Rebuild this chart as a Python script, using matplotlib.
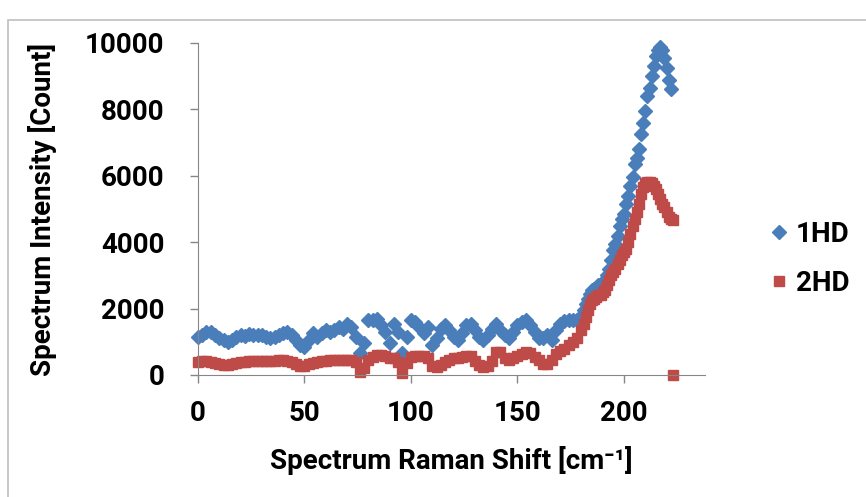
import matplotlib
matplotlib.use("Agg")
import matplotlib.pyplot as plt
from matplotlib.patches import Rectangle

plt.rcParams["font.family"] = ["Roboto", "DejaVu Sans"]

# Raman shift positions (cm-1) and intensities
shift_1hd = [0, 2, 4, 6, 8, 10, 12, 14, 16, 18, 20, 22, 24, 26, 28, 30, 32, 34, 36, 38,
             40, 42, 44, 46, 48, 50, 52, 54, 56, 58, 60, 62, 64, 66, 68, 70, 72, 74, 76, 78,
             80, 82, 84, 86, 88, 90, 92, 94, 96, 98, 100, 102, 104, 106, 108, 110, 112, 114,
             116, 118, 120, 122, 124, 126, 128, 130, 132, 134, 136, 138, 140, 142, 144, 146,
             148, 150, 152, 154, 156, 158, 160, 162, 164, 166, 168, 170, 172, 174, 176, 178,
             180, 181, 182, 183, 184, 185, 186, 187, 188, 189, 190, 191, 192, 193, 194, 195,
             196, 197, 198, 199, 200, 201, 202, 203, 204, 205, 206, 207, 208, 209, 210, 211,
             212, 213, 214, 215, 216, 217, 218, 219, 220, 221, 222]
intensity_1hd = [1150, 1200, 1280, 1300, 1200, 1100, 1050, 1000, 1050, 1150, 1200, 1180, 1230,
                 1200, 1200, 1200, 1130, 1120, 1150, 1200, 1250, 1300, 1200, 1050, 900, 850,
                 1050, 1250, 1150, 1250, 1350, 1300, 1350, 1450, 1400, 1550, 1450, 1150, 650,
                 950, 1650, 1650, 1700, 1500, 1300, 950, 1550, 1300, 650, 1150, 1650, 1600,
                 1450, 1250, 1450, 900, 1100, 1400, 1500, 1350, 1150, 1050, 1250, 1500, 1550,
                 1350, 1150, 1050, 1200, 1400, 1550, 1350, 1200, 1100, 1300, 1500, 1600, 1650,
                 1500, 1300, 1100, 1100, 1200, 1050, 1350, 1550, 1620, 1650, 1650, 1660, 1780,
                 1950, 2150, 2300, 2450, 2550, 2600, 2620, 2700, 2700, 2800, 2850, 3000, 3200,
                 3450, 3750, 3950, 4200, 4500, 4700, 4850, 5150, 5400, 5700, 5950, 6350, 6550,
                 6800, 7250, 7600, 7950, 8400, 8650, 9000, 9300, 9600, 9800, 9880, 9800, 9550,
                 9250, 8900, 8600]

shift_2hd = [0, 2, 4, 6, 8, 10, 12, 14, 16, 18, 20, 22, 24, 26, 28, 30, 32, 34, 36, 38,
             40, 42, 44, 46, 48, 50, 52, 54, 56, 58, 60, 62, 64, 66, 68, 70, 72, 74, 76, 78,
             80, 82, 84, 86, 88, 90, 92, 94, 96, 98, 100, 102, 104, 106, 108, 110, 112, 114,
             116, 118, 120, 122, 124, 126, 128, 130, 132, 134, 136, 138, 140, 142, 144, 146,
             148, 150, 152, 154, 156, 158, 160, 162, 164, 166, 168, 170, 172, 174, 176, 178,
             180, 181, 182, 183, 184, 185, 186, 187, 188, 189, 190, 191, 192, 193, 194, 195,
             196, 197, 198, 199, 200, 201, 202, 203, 204, 205, 206, 207, 208, 209, 210, 211,
             212, 213, 214, 215, 216, 217, 218, 219, 220, 221, 222, 223, 223]
intensity_2hd = [400, 420, 420, 400, 350, 330, 300, 310, 330, 350, 380, 400, 420, 420, 420,
                 420, 410, 420, 430, 440, 450, 420, 380, 320, 260, 280, 330, 370, 400, 420,
                 430, 450, 450, 440, 450, 460, 450, 400, 80, 200, 450, 550, 600, 600, 560,
                 520, 500, 400, 50, 350, 550, 580, 560, 580, 500, 260, 250, 300, 380, 450,
                 500, 520, 550, 580, 580, 420, 300, 250, 280, 420, 680, 680, 500, 450, 500,
                 580, 640, 680, 650, 550, 450, 320, 320, 460, 620, 720, 780, 900, 1000, 1120,
                 1350, 1550, 1750, 1950, 2150, 2250, 2300, 2350, 2400, 2420, 2500, 2550, 2700,
                 2850, 3000, 3100, 3200, 3350, 3450, 3600, 3700, 3800, 4000, 4250, 4500, 4700,
                 4900, 5150, 5450, 5650, 5780, 5800, 5820, 5780, 5700, 5600, 5450, 5300, 5150,
                 5050, 4900, 4750, 4700, 4680, 0]

fig = plt.figure(figsize=(8.66, 4.97), dpi=100)
fig.patches.append(Rectangle((0.009, -0.1), 1.2, 1.06, transform=fig.transFigure,
                             fill=False, edgecolor="#bfbfbf", linewidth=1.2))

ax = fig.add_axes([0.2286, 0.2455, 0.5854, 0.668])
ax.plot(shift_1hd, intensity_1hd, linestyle="none", marker="D", markersize=7.5,
        color="#4a7ebb", label="1HD", clip_on=False)
ax.plot(shift_2hd, intensity_2hd, linestyle="none", marker="s", markersize=7.5,
        color="#be4b48", label="2HD", clip_on=False)

ax.set_xlim(0, 238)
ax.set_ylim(0, 10000)
ax.set_xticks([0, 50, 100, 150, 200])
ax.set_yticks([0, 2000, 4000, 6000, 8000, 10000])
for side in ["top", "right"]:
    ax.spines[side].set_visible(False)
for side in ["left", "bottom"]:
    ax.spines[side].set_color("#868686")
ax.tick_params(colors="#868686", labelcolor="black", length=6, width=1, labelsize=20)
ax.tick_params(axis="x", pad=12)
ax.tick_params(axis="y", pad=18)
for lbl in ax.get_xticklabels() + ax.get_yticklabels():
    lbl.set_fontweight("bold")

ax.set_xlabel("Spectrum Raman Shift [cm\u207b\u00b9]", fontsize=20, fontweight="bold",
              labelpad=14)
ax.set_ylabel("Spectrum Intensity [Count]", fontsize=20, fontweight="bold", labelpad=20)

leg = ax.legend(loc="center left", bbox_to_anchor=(1.07, 0.35), frameon=False,
                prop={"size": 20, "weight": "bold"}, handletextpad=0.1,
                labelspacing=0.8, handlelength=1)

fig.savefig("out.png", dpi=100)
